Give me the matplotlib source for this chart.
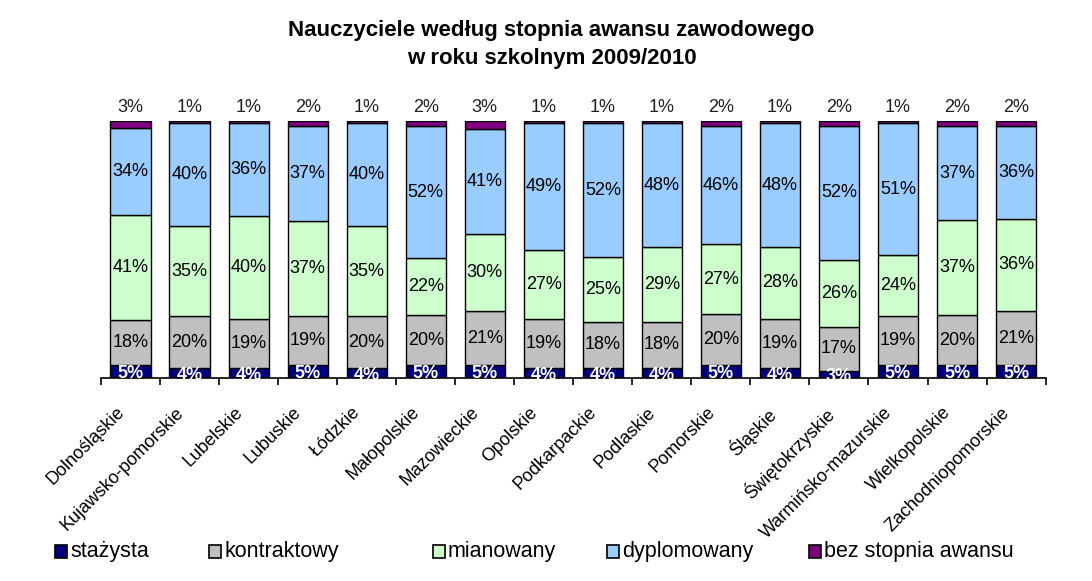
import numpy as np
import matplotlib
matplotlib.use("Agg")
import matplotlib.pyplot as plt
from matplotlib.patches import Rectangle

plt.rcParams['font.family'] = ['Liberation Sans', 'DejaVu Sans']

regions = ["Dolnośląskie", "Kujawsko-pomorskie", "Lubelskie", "Lubuskie", "Łódzkie",
           "Małopolskie", "Mazowieckie", "Opolskie", "Podkarpackie", "Podlaskie",
           "Pomorskie", "Śląskie", "Świętokrzyskie", "Warmińsko-mazurskie",
           "Wielkopolskie", "Zachodniopomorskie"]

stazysta = [5, 4, 4, 5, 4, 5, 5, 4, 4, 4, 5, 4, 3, 5, 5, 5]
kontraktowy = [18, 20, 19, 19, 20, 20, 21, 19, 18, 18, 20, 19, 17, 19, 20, 21]
mianowany = [41, 35, 40, 37, 35, 22, 30, 27, 25, 29, 27, 28, 26, 24, 37, 36]
dyplomowany = [34, 40, 36, 37, 40, 52, 41, 49, 52, 48, 46, 48, 52, 51, 37, 36]
bez_stopnia = [3, 1, 1, 2, 1, 2, 3, 1, 1, 1, 2, 1, 2, 1, 2, 2]

series_names = ["stażysta", "kontraktowy", "mianowany", "dyplomowany", "bez stopnia awansu"]
colors = ["#000080", "#C0C0C0", "#CCFFCC", "#99CCFF", "#800080"]

data = np.array([stazysta, kontraktowy, mianowany, dyplomowany, bez_stopnia], dtype=float)
shares = data / data.sum(axis=0)  # 100% stacked

W, H = 1092, 581
fig = plt.figure(figsize=(W / 100, H / 100), dpi=100)
ax = fig.add_axes([0.0925, 0.349, 0.865, 0.443])

x = np.arange(len(regions))
bottom = np.zeros(len(regions))
width = 0.68
for i, (name, col) in enumerate(zip(series_names, colors)):
    ax.bar(x, shares[i], width, bottom=bottom, color=col, edgecolor="black",
           linewidth=1.0, zorder=2)
    for j in range(len(regions)):
        label = f"{int(data[i, j])}%"
        if i == 0:
            ax.text(x[j], bottom[j] + shares[i, j] / 2 - 0.008, label, ha="center",
                    va="center", color="white", fontsize=13, fontweight="bold",
                    zorder=3)
        elif i == 4:
            ax.text(x[j], 1.018, label, ha="center", va="bottom", color="#202020",
                    fontsize=13, zorder=3)
        else:
            ax.text(x[j], bottom[j] + shares[i, j] / 2, label, ha="center",
                    va="center", color="black", fontsize=13, zorder=3)
    bottom += shares[i]

ax.set_xlim(-0.5, len(regions) - 0.5)
ax.set_ylim(0, 1)
ax.set_yticks([])
for s in ["top", "right", "left"]:
    ax.spines[s].set_visible(False)
ax.spines["bottom"].set_linewidth(1.2)

# ticks between categories
ax.set_xticks(np.arange(-0.5, len(regions)))
ax.set_xticklabels([])
ax.tick_params(axis="x", direction="out", length=5, width=1.2)
for j, name in enumerate(regions):
    ax.text(x[j] - 0.25, -0.1, name, rotation=45, ha="right", va="top",
            rotation_mode="anchor", fontsize=13)

fig.suptitle("Nauczyciele według stopnia awansu zawodowego\nw roku szkolnym 2009/2010",
             x=0.505, y=0.965, fontsize=16, fontweight="bold", linespacing=1.4)

# legend entries, placed as in the original layout
legend_x = [55, 209, 433, 607, 809]
for px, name, col in zip(legend_x, series_names, colors):
    fig.add_artist(Rectangle((px / W, 1 - 558 / H), 12 / W, 13 / H, facecolor=col,
                             edgecolor="black", linewidth=1.2,
                             transform=fig.transFigure))
    fig.text((px + 15) / W, 1 - 551 / H, name, ha="left", va="center", fontsize=15.5)

fig.savefig("out.png", dpi=100)
